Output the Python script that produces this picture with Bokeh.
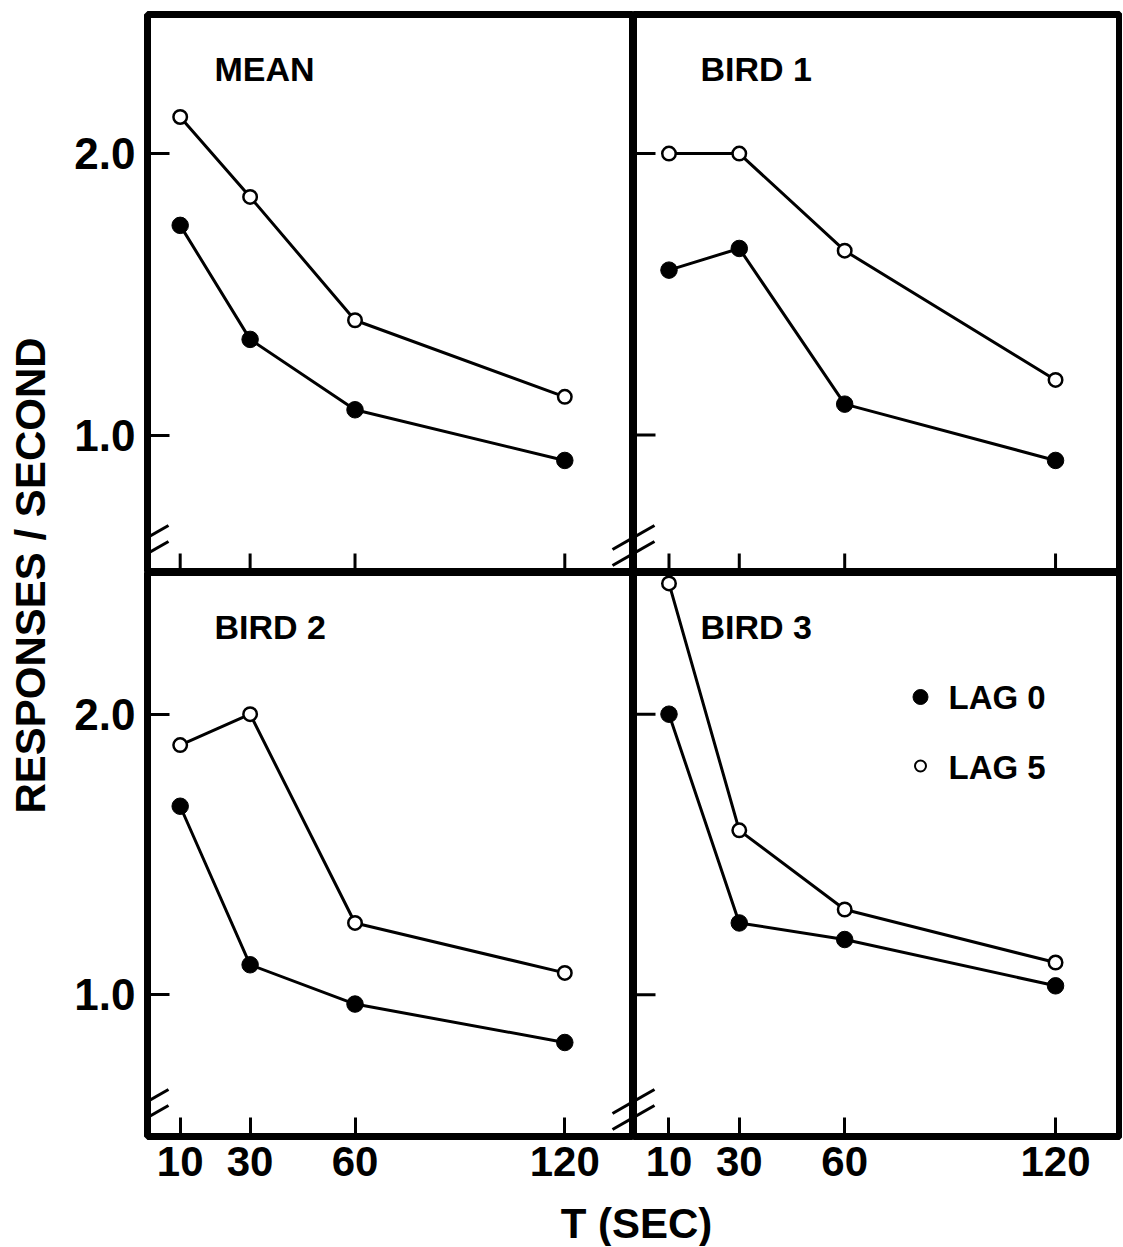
import math
from bokeh.plotting import figure
from bokeh.models import Range1d, FixedTicker, PrintfTickFormatter, Label, Arrow, ColumnDataSource
from bokeh.layouts import row, column
from bokeh.embed import file_html
from bokeh.resources import INLINE

# ---------------- data ----------------
T_SEC = [10, 30, 60, 120]
Y_TICKS = [1.0, 2.0]

MEAN_LAG0 = [1.745, 1.340, 1.090, 0.910]
MEAN_LAG5 = [2.130, 1.846, 1.408, 1.136]
BIRD1_LAG0 = [1.586, 1.663, 1.110, 0.910]
BIRD1_LAG5 = [2.000, 2.000, 1.655, 1.196]
BIRD2_LAG0 = [1.672, 1.107, 0.967, 0.830]
BIRD2_LAG5 = [1.890, 2.000, 1.256, 1.078]
BIRD3_LAG0 = [2.000, 1.256, 1.197, 1.032]
BIRD3_LAG5 = [2.466, 1.586, 1.304, 1.115]

PANEL_NAMES = ["MEAN", "BIRD 1", "BIRD 2", "BIRD 3"]
LEGEND_LABELS = ["LAG 0", "LAG 5"]
Y_TITLE = "RESPONSES / SECOND"
X_TITLE = "T (SEC)"

# ---------------- layout / style ----------------
FONT = "Liberation Sans"
FRAME_W = 486
TOP_H = 558
BOT_H = 564
LEFT_BORDER = 79
RIGHT_BORDER = 3
TOP_BORDER = 14
BOTTOM_BORDER = 58
YSTRIP_W = 68
XSTRIP_H = 52
TOTAL_H = TOP_BORDER + TOP_H + BOT_H + BOTTOM_BORDER + XSTRIP_H
BASE_FIX = 12  # label baseline correction (px)


def px_scales(p, fh):
    sx = FRAME_W / (p.x_range.end - p.x_range.start)
    sy = fh / (p.y_range.end - p.y_range.start)
    return sx, sy


def add_break(p, fh, at_right=False):
    sx, sy = px_scales(p, fh)
    cx = p.x_range.end if at_right else p.x_range.start
    for up_px in (35, 19):
        cy = p.y_range.start + up_px / sy
        p.add_layout(Arrow(end=None, start=None,
                           x_start=cx - 21 / sx, y_start=cy - 12 / sy,
                           x_end=cx + 21 / sx, y_end=cy + 12 / sy,
                           line_color="black", line_width=3))


def style_axis(ax):
    ax.axis_line_color = None
    ax.major_tick_out = 0
    ax.minor_tick_in = 0
    ax.minor_tick_out = 0
    ax.major_tick_line_width = 3
    ax.major_tick_line_color = "black"
    ax.major_label_text_font = FONT
    ax.major_label_text_font_style = "bold"
    ax.major_label_text_color = "black"


def make_panel(idx, lag0, lag5):
    col = idx % 2
    rw = idx // 2
    left = col == 0
    bottom = rw == 1
    xr = Range1d(0.65, 139.65) if left else Range1d(-0.1, 138.2)
    yr = Range1d(0.495, 2.505) if bottom else Range1d(0.512, 2.494)
    fh = BOT_H if bottom else TOP_H
    bl = LEFT_BORDER if left else 0
    br = 0 if left else RIGHT_BORDER
    bt = 0 if bottom else TOP_BORDER
    bb = BOTTOM_BORDER if bottom else 0
    p = figure(width=FRAME_W + bl + br, height=fh + bt + bb,
               x_range=xr, y_range=yr, output_backend="svg",
               toolbar_location=None, min_border=0,
               min_border_left=bl, min_border_right=br,
               min_border_top=bt, min_border_bottom=bb,
               x_axis_location="below" if bottom else None,
               y_axis_location="left" if left else None)
    p.background_fill_color = "white"
    p.border_fill_color = "white"
    p.grid.visible = False
    p.outline_line_color = "black"
    p.outline_line_width = 7
    sx, sy = px_scales(p, fh)

    if bottom:
        p.xaxis.ticker = FixedTicker(ticks=T_SEC)
        style_axis(p.xaxis[0])
        p.xaxis.major_tick_in = 19
        p.xaxis.major_label_text_font_size = "42px"
        p.xaxis.major_label_standoff = 10
    else:
        tsrc = ColumnDataSource(dict(x0=T_SEC, y0=[yr.start] * len(T_SEC),
                                     y1=[yr.start + 19 / sy] * len(T_SEC)))
        p.segment(x0="x0", y0="y0", x1="x0", y1="y1", source=tsrc,
                  line_color="black", line_width=3)
    if left:
        p.yaxis.ticker = FixedTicker(ticks=Y_TICKS)
        p.yaxis.formatter = PrintfTickFormatter(format="%.1f")
        style_axis(p.yaxis[0])
        p.yaxis.major_tick_in = 22
        p.yaxis.major_label_text_font_size = "44px"
        p.yaxis.major_label_standoff = 12
    else:
        ysrc = ColumnDataSource(dict(y0=Y_TICKS, x0=[xr.start] * len(Y_TICKS),
                                     x1=[xr.start + 22 / sx] * len(Y_TICKS)))
        p.segment(x0="x0", y0="y0", x1="x1", y1="y0", source=ysrc,
                  line_color="black", line_width=3)

    src = ColumnDataSource(dict(t=T_SEC, lag0=lag0, lag5=lag5))
    p.line("t", "lag0", source=src, line_color="black", line_width=3)
    p.line("t", "lag5", source=src, line_color="black", line_width=3)
    p.scatter("t", "lag0", source=src, size=16.5, fill_color="black",
              line_color="black", line_width=1)
    p.scatter("t", "lag5", source=src, size=13.5, fill_color="white",
              line_color="black", line_width=2.5)

    p.add_layout(Label(x=xr.start + 67 / sx, y=yr.end - (66.5 - BASE_FIX) / sy,
                       text=PANEL_NAMES[idx], text_font=FONT,
                       text_font_style="bold", text_font_size="34px",
                       text_color="black", text_baseline="alphabetic"))

    add_break(p, fh, at_right=False)
    if left:
        add_break(p, fh, at_right=True)

    if idx == 3:
        mx = xr.start + 287 / sx
        tx = xr.start + 315 / sx
        ys_marker = [yr.end - 124.5 / sy, yr.end - 193.5 / sy]
        ys_text = [yr.end - (136.5 - BASE_FIX) / sy, yr.end - (206.5 - BASE_FIX) / sy]
        p.scatter([mx], [ys_marker[0]], size=15, fill_color="black",
                  line_color="black", line_width=1)
        p.scatter([mx], [ys_marker[1]], size=11, fill_color="white",
                  line_color="black", line_width=2)
        for lab, yy in zip(LEGEND_LABELS, ys_text):
            p.add_layout(Label(x=tx, y=yy, text=lab, text_font=FONT,
                               text_font_style="bold", text_font_size="33px",
                               text_color="black", text_baseline="alphabetic"))
    return p


data = [(MEAN_LAG0, MEAN_LAG5), (BIRD1_LAG0, BIRD1_LAG5),
        (BIRD2_LAG0, BIRD2_LAG5), (BIRD3_LAG0, BIRD3_LAG5)]
panels = [make_panel(i, d[0], d[1]) for i, d in enumerate(data)]

# y-title strip
ys = figure(width=YSTRIP_W, height=TOTAL_H, x_range=Range1d(0, YSTRIP_W),
            y_range=Range1d(0, TOTAL_H), output_backend="svg",
            toolbar_location=None, min_border=0,
            x_axis_location=None, y_axis_location=None)
ys.grid.visible = False
ys.outline_line_color = None
ys.border_fill_color = "white"
ys.background_fill_color = "white"
ys.add_layout(Label(x=30, y=TOTAL_H - 575, text=Y_TITLE, angle=math.pi / 2,
                    text_align="center", text_baseline="middle",
                    text_font=FONT, text_font_style="bold",
                    text_font_size="42px", text_color="black"))

# x-title strip
xs_w = 2 * FRAME_W + LEFT_BORDER + RIGHT_BORDER
xs = figure(width=xs_w, height=XSTRIP_H, x_range=Range1d(0, xs_w),
            y_range=Range1d(0, XSTRIP_H), output_backend="svg",
            toolbar_location=None, min_border=0,
            x_axis_location=None, y_axis_location=None)
xs.grid.visible = False
xs.outline_line_color = None
xs.border_fill_color = "white"
xs.background_fill_color = "white"
xs.add_layout(Label(x=636 - YSTRIP_W, y=11 + BASE_FIX, text=X_TITLE,
                    text_align="center", text_baseline="alphabetic",
                    text_font=FONT, text_font_style="bold",
                    text_font_size="42px", text_color="black"))

layout = row(ys, column(row(panels[0], panels[1]),
                        row(panels[2], panels[3]), xs))

open("out.html", "w").write(file_html(layout, INLINE))
